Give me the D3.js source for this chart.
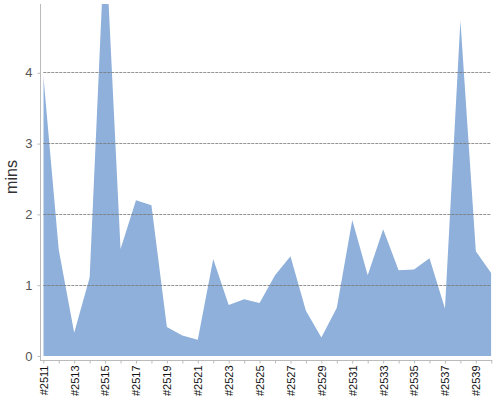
<!DOCTYPE html>
<html>
<head>
<meta charset="utf-8">
<script src="https://cdn.jsdelivr.net/npm/d3@7/dist/d3.min.js"></script>
<style>
  body { margin: 0; background: #fff; }
  svg { display: block; font-family: "Liberation Sans", Arial, sans-serif; }
</style>
</head>
<body>
<svg id="chart" width="500" height="400"></svg>
<script>
const categories = ["#2511","#2512","#2513","#2514","#2515","#2516","#2517","#2518","#2519","#2520",
  "#2521","#2522","#2523","#2524","#2525","#2526","#2527","#2528","#2529","#2530",
  "#2531","#2532","#2533","#2534","#2535","#2536","#2537","#2538","#2539","#2540"];
const values = [3.97,1.50,0.33,1.11,6.0,1.51,2.20,2.13,0.41,0.29,
  0.23,1.37,0.72,0.80,0.75,1.14,1.41,0.64,0.26,0.68,
  1.92,1.14,1.79,1.21,1.22,1.38,0.67,4.74,1.48,1.17];
const yTicks = [0,1,2,3,4];
const yLabel = "mins";

const svg = d3.select("#chart");
const plotL = 43.3, plotR = 491.3, plotT = 4, plotB = 356;

const x = d3.scalePoint().domain(categories).range([plotL, plotR]);
const y = d3.scaleLinear().domain([0, 5]).range([plotB, 2]);

svg.append("defs").append("clipPath").attr("id", "plotclip")
  .append("rect").attr("x", plotL).attr("y", plotT).attr("width", plotR - plotL).attr("height", plotB - plotT);

// area
const area = d3.area().x((d, i) => x(categories[i])).y0(y(0)).y1(d => y(d));
svg.append("path").datum(values)
  .attr("clip-path", "url(#plotclip)")
  .attr("d", area)
  .attr("fill", "#8eb0da");

// gridlines (drawn over the area)
svg.append("g").selectAll("line").data(yTicks.filter(d => d > 0)).join("line")
  .attr("x1", plotL).attr("x2", plotR)
  .attr("y1", d => Math.floor(y(d)) + 0.5).attr("y2", d => Math.floor(y(d)) + 0.5)
  .attr("stroke", "#777").attr("stroke-opacity", 0.8).attr("stroke-width", 1).attr("stroke-dasharray", "3,1");

// y axis
const yAxis = d3.axisLeft(y).tickValues(yTicks).tickSize(3).tickPadding(5).tickFormat(d3.format("d"));
const gy = svg.append("g").attr("transform", "translate(40.5,0)").call(yAxis);
gy.select(".domain").attr("d", `M0,${plotT}V${plotB + 5}`).attr("stroke", "#bbbbbb");
gy.selectAll(".tick line").attr("stroke", "#bbbbbb");
gy.selectAll(".tick text").attr("fill", "#555").style("font-size", "13px")
  .style("font-family", "'Liberation Sans', Arial, sans-serif");

// x axis
const xAxis = d3.axisBottom(x).tickSize(3).tickPadding(4)
  .tickFormat((d, i) => i % 2 === 0 ? d : "");
const gx = svg.append("g").attr("transform", `translate(0,${plotB + 4.5})`).call(xAxis);
gx.select(".domain").attr("d", `M40,0H${plotR + 1}`).attr("stroke", "#bbbbbb");
gx.selectAll(".tick line").attr("stroke", "#bbbbbb");
gx.selectAll(".tick text")
  .attr("transform", "rotate(-90)")
  .attr("text-anchor", "end")
  .attr("x", -5).attr("y", 0).attr("dy", "0.35em")
  .attr("fill", "#111").style("font-size", "11px")
  .style("font-family", "'Liberation Sans', Arial, sans-serif");

// y label
svg.append("text")
  .attr("transform", "translate(17,177) rotate(-90)")
  .attr("text-anchor", "middle")
  .attr("fill", "#333")
  .style("font-size", "16px")
  .text(yLabel);
</script>
</body>
</html>
